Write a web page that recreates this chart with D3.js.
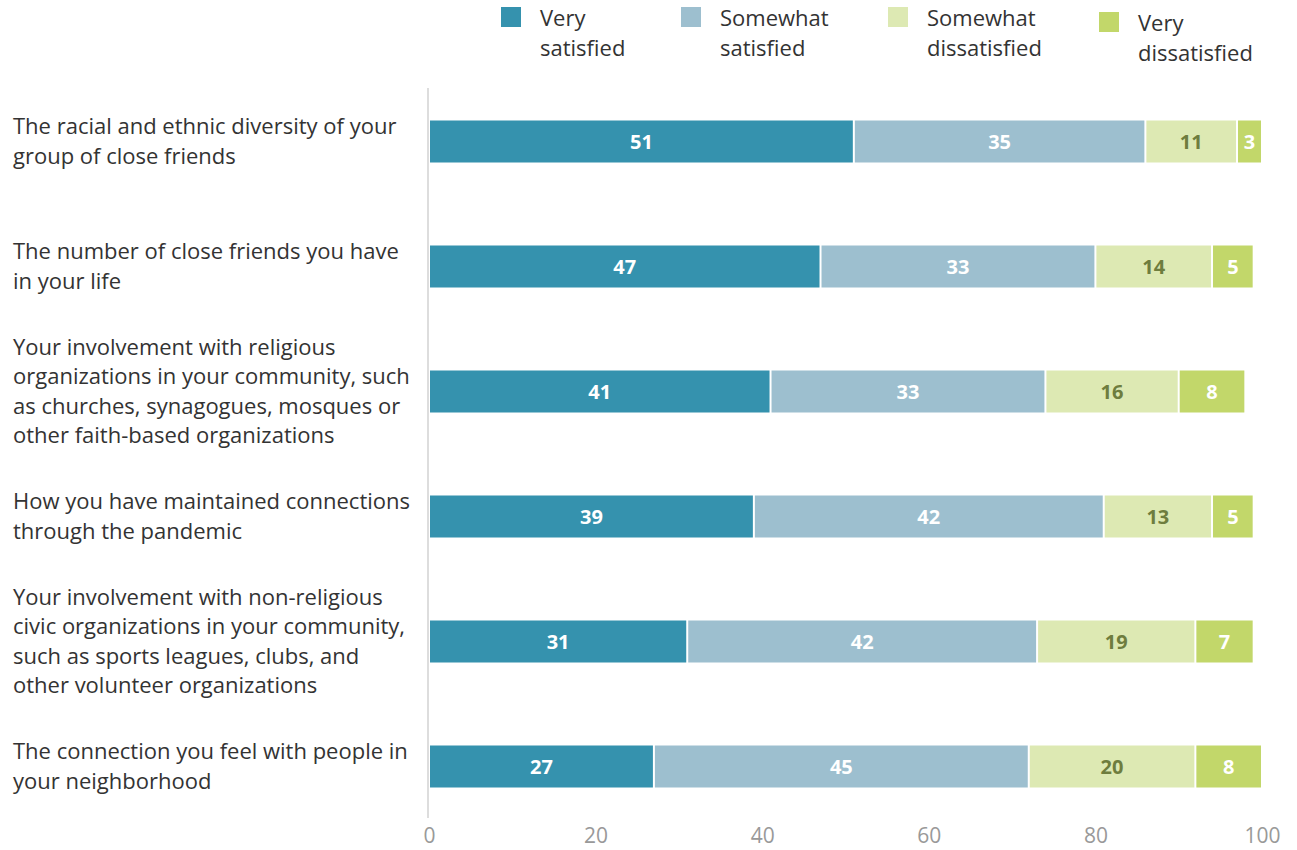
<!DOCTYPE html>
<html><head><meta charset="utf-8">
<script src="https://cdn.jsdelivr.net/npm/d3@7"></script>
<style>body{margin:0;background:#fff}svg{font-family:"Open Sans",sans-serif}</style>
</head><body><svg id="c" width="1297" height="850"></svg>
<script>
const categories = [
  ["The racial and ethnic diversity of your","group of close friends"],
  ["The number of close friends you have","in your life"],
  ["Your involvement with religious","organizations in your community, such","as churches, synagogues, mosques or","other faith-based organizations"],
  ["How you have maintained connections","through the pandemic"],
  ["Your involvement with non-religious","civic organizations in your community,","such as sports leagues, clubs, and","other volunteer organizations"],
  ["The connection you feel with people in","your neighborhood"]
];
const seriesNames = [["Very","satisfied"],["Somewhat","satisfied"],["Somewhat","dissatisfied"],["Very","dissatisfied"]];
const verySatisfied = [51,47,41,39,31,27];
const somewhatSatisfied = [35,33,33,42,42,45];
const somewhatDissatisfied = [11,14,16,13,19,20];
const veryDissatisfied = [3,5,8,5,7,8];
const xTicks = [0,20,40,60,80,100];
const colors = ["#3592ae","#9dbfcf","#dde9b3","#c2d76a"];
const labelColors = ["#fff","#fff","#6e7d3e","#fff"];

const series = [verySatisfied, somewhatSatisfied, somewhatDissatisfied, veryDissatisfied];
const svg = d3.select("#c");
const x = d3.scaleLinear().domain([0,100]).range([429,1262]);
const y = d3.scaleBand().domain(d3.range(categories.length)).range([79,829]).paddingInner(0.664).paddingOuter(0.332);

// axis line
svg.append("line").attr("x1",428).attr("x2",428).attr("y1",88).attr("y2",818).attr("stroke","#dddddd").attr("stroke-width",2);

// bars
categories.forEach((c,i)=>{
  let acc = 0;
  series.forEach((s,k)=>{
    const v = s[i];
    const x0 = x(acc), x1 = x(acc+v);
    svg.append("rect").attr("x",x0+1).attr("y",y(i)).attr("width",Math.max(0,x1-x0-2)).attr("height",y.bandwidth()).attr("fill",colors[k]);
    svg.append("text").attr("x",(x0+x1)/2).attr("y",y(i)+y.bandwidth()/2).attr("dy","0.35em")
      .attr("text-anchor","middle").attr("font-weight","bold").attr("font-size",20).attr("fill",labelColors[k]).text(v);
    acc += v;
  });
  // category label
  const lh = 29.5;
  const cy = y(i)+y.bandwidth()/2;
  const t = svg.append("text").attr("font-size",22).attr("fill","#333");
  c.forEach((line,j)=>{
    t.append("tspan").attr("x",13).attr("y",cy + (j-(c.length-1)/2)*lh).attr("dy","0.35em").text(line);
  });
});

// x axis ticks
const ax = svg.append("g").attr("transform","translate(0,824)").call(d3.axisBottom(x).tickValues(xTicks).tickSize(0).tickPadding(4));
ax.select(".domain").remove();
ax.selectAll("text").attr("font-family","Open Sans").attr("font-size",21).attr("fill","#999");

// legend
const legX = [501,681,888,1099];
const legY = [7,7,7,12];
seriesNames.forEach((n,k)=>{
  svg.append("rect").attr("x",legX[k]).attr("y",legY[k]).attr("width",20).attr("height",20).attr("fill",colors[k]);
  const t = svg.append("text").attr("font-size",22).attr("fill","#333");
  n.forEach((line,j)=>{
    t.append("tspan").attr("x",legX[k]+39).attr("y",legY[k]+11+j*30).attr("dy","0.35em").text(line);
  });
});
</script></body></html>
